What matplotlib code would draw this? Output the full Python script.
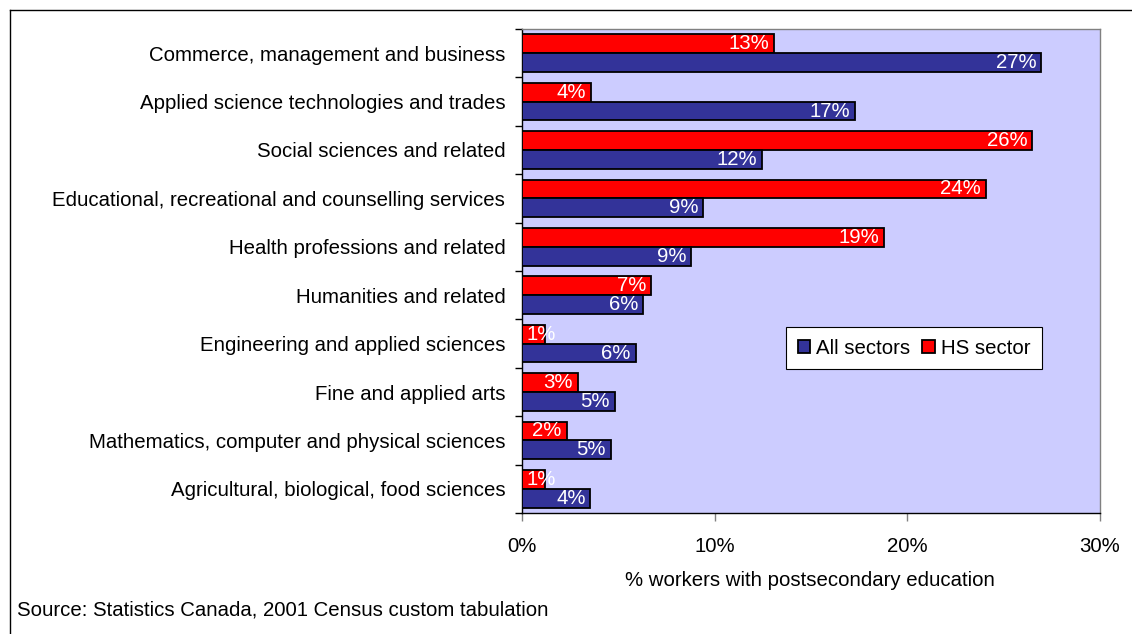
import matplotlib
matplotlib.use('Agg')
import matplotlib.pyplot as plt
from matplotlib.lines import Line2D
from matplotlib.ticker import FixedLocator, PercentFormatter

plt.rcParams['font.family'] = ['Liberation Sans', 'DejaVu Sans']

# Fields of study, top to bottom
fields = [
    'Commerce, management and business',
    'Applied science technologies and trades',
    'Social sciences and related',
    'Educational, recreational and counselling services',
    'Health professions and related',
    'Humanities and related',
    'Engineering and applied sciences',
    'Fine and applied arts',
    'Mathematics, computer and physical sciences',
    'Agricultural, biological, food sciences',
]

# % of workers with postsecondary education
all_sectors = [26.96, 17.28, 12.48, 9.41, 8.79, 6.29, 5.90, 4.81, 4.61, 3.55]
hs_sector = [13.08, 3.57, 26.47, 24.08, 18.77, 6.71, 1.18, 2.90, 2.32, 1.18]

x_ticks = [0, 10, 20, 30]

FS = 14.7

fig = plt.figure(figsize=(11.32, 6.34), dpi=100)
ax = fig.add_axes([522 / 1132, 1 - 513 / 634, 578 / 1132, 484 / 634])
ax.set_facecolor('#CCCCFF')

pos = list(range(len(fields)))
off = 0.195
h = 0.39
hs_bars = ax.barh([p - off for p in pos], hs_sector, height=h, color='#FF0000',
                  edgecolor='black', linewidth=1.3, label='HS sector', zorder=3)
all_bars = ax.barh([p + off for p in pos], all_sectors, height=h, color='#333399',
                   edgecolor='black', linewidth=1.3, label='All sectors', zorder=3)

ax.set_xlim(0, 30)
ax.set_ylim(len(fields) - 0.5, -0.5)

# value labels, white, inside the end of each bar
for p, vals in ((-off, hs_sector), (off, all_sectors)):
    for i, v in enumerate(vals):
        txt = f'{round(v)}%'
        if v < 2:
            ax.annotate(txt, (0, i + p), xytext=(3.5, 0), textcoords='offset points',
                        ha='left', va='center', color='white', fontsize=FS, zorder=4)
        else:
            ax.annotate(txt, (v, i + p), xytext=(-3.5, 0), textcoords='offset points',
                        ha='right', va='center', color='white', fontsize=FS, zorder=4)

# y axis: labels at category centres, ticks between categories
ax.set_yticks(pos)
ax.set_yticklabels(fields, fontsize=FS)
ax.yaxis.set_minor_locator(FixedLocator([p - 0.5 for p in pos] + [len(fields) - 0.5]))
ax.tick_params(axis='y', which='major', length=0, pad=12)
ax.tick_params(axis='y', which='minor', length=5, width=1, color='black', direction='out')

ax.set_xticks(x_ticks)
ax.xaxis.set_major_formatter(PercentFormatter(decimals=0))
ax.tick_params(axis='x', length=6, width=1, color='#808080', labelsize=FS, pad=11)

ax.spines['top'].set_color('#808080')
ax.spines['right'].set_color('#808080')
for s in ax.spines.values():
    s.set_linewidth(1)

leg = ax.legend(handles=[all_bars, hs_bars], labels=['All sectors', 'HS sector'],
                ncol=2, loc='center', bbox_to_anchor=(914 / 1132, 1 - 348 / 634),
                bbox_transform=fig.transFigure, fontsize=FS, frameon=True,
                fancybox=False, edgecolor='black', framealpha=1,
                handlelength=0.6, handleheight=0.6, handletextpad=0.3,
                columnspacing=0.6, borderpad=0.55)
leg.get_frame().set_linewidth(0.8)

fig.text(810 / 1132, 1 - 580 / 634, '% workers with postsecondary education',
         ha='center', va='center', fontsize=FS)
fig.text(17 / 1132, 1 - 610 / 634, 'Source: Statistics Canada, 2001 Census custom tabulation',
         ha='left', va='center', fontsize=FS)

# outer frame (top and left edges)
fig.add_artist(Line2D([9.5 / 1132, 1], [1 - 9.5 / 634, 1 - 9.5 / 634],
                      transform=fig.transFigure, color='black', linewidth=1))
fig.add_artist(Line2D([9.5 / 1132, 9.5 / 1132], [0, 1 - 9.5 / 634],
                      transform=fig.transFigure, color='black', linewidth=1))

fig.savefig('out.png', dpi=100)
